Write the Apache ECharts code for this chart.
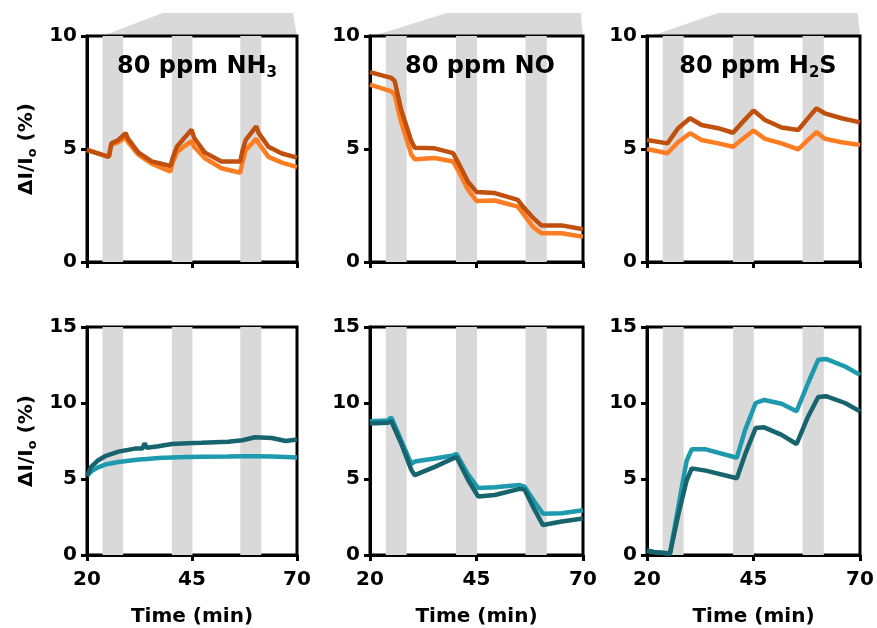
<!DOCTYPE html>
<html>
<head>
<meta charset="utf-8">
<script src="https://cdn.jsdelivr.net/npm/echarts@6.0.0/dist/echarts.min.js"></script>
<style>html,body{margin:0;padding:0;background:#fff}#c{width:877px;height:628px}</style>
</head>
<body>
<div id="c"></div>
<script>
// ---------- data ----------
const xTicks = [20, 45, 70];
const exposureBands = [[23.7, 28.6], [40.2, 45.1], [56.5, 61.5]];

// top row (orange) – 80 ppm NH3
const nh3TopTime  = [20, 23.5, 25.2, 25.8, 27.5, 29.2, 29.8, 32.2, 35.4, 39.9, 40.4, 41.4, 43, 44.9, 45.5, 48, 52, 56.5, 57, 57.8, 60.3, 60.9, 63.2, 66.4, 70];
const nh3TopDark  = [4.96, 4.75, 4.65, 5.25, 5.4, 5.7, 5.45, 4.85, 4.45, 4.25, 4.6, 5.1, 5.45, 5.85, 5.5, 4.85, 4.45, 4.45, 4.9, 5.4, 6.0, 5.7, 5.1, 4.8, 4.62];
const nh3TopLight = [4.96, 4.75, 4.65, 5.2, 5.3, 5.5, 5.3, 4.75, 4.35, 4.0, 4.4, 4.85, 5.1, 5.35, 5.1, 4.6, 4.15, 3.95, 4.4, 4.95, 5.45, 5.25, 4.65, 4.4, 4.2];

// top row – 80 ppm NO
const noTopTime  = [20, 25, 25.8, 27.3, 29.7, 30.5, 35.2, 39.5, 40.7, 43, 45, 49.3, 54.7, 55.9, 58.3, 60.2, 65, 70];
const noTopDark  = [8.4, 8.15, 8.0, 6.75, 5.35, 5.05, 5.03, 4.82, 4.4, 3.55, 3.1, 3.05, 2.75, 2.45, 1.95, 1.62, 1.62, 1.45];
const noTopLight = [7.85, 7.55, 7.4, 6.2, 4.75, 4.55, 4.6, 4.45, 4.05, 3.2, 2.7, 2.72, 2.45, 2.15, 1.55, 1.27, 1.27, 1.12];

// top row – 80 ppm H2S
const h2sTopTime  = [20, 24.8, 27.3, 30.1, 32.8, 36.7, 40.2, 42.5, 45, 47.7, 51.6, 55.5, 57.5, 59.8, 61.7, 65.7, 70];
const h2sTopDark  = [5.4, 5.25, 5.92, 6.36, 6.06, 5.92, 5.72, 6.2, 6.7, 6.28, 5.95, 5.84, 6.3, 6.8, 6.58, 6.36, 6.18];
const h2sTopLight = [5.0, 4.81, 5.3, 5.7, 5.4, 5.25, 5.1, 5.45, 5.82, 5.45, 5.25, 4.98, 5.35, 5.75, 5.45, 5.3, 5.18];

// bottom row (teal) – NH3
const nh3BotTime  = [20, 21, 22.5, 24.3, 27.5, 31.4, 33.2, 33.7, 34.3, 37, 40.2, 44, 47.3, 53.6, 57, 60, 64, 67.3, 70];
const nh3BotDark  = [5.2, 5.8, 6.2, 6.5, 6.8, 7.0, 7.0, 7.35, 7.05, 7.15, 7.3, 7.35, 7.38, 7.45, 7.55, 7.75, 7.7, 7.5, 7.6];
const nh3BotLight = [5.2, 5.5, 5.75, 5.95, 6.12, 6.25, 6.3, 6.3, 6.32, 6.38, 6.42, 6.45, 6.47, 6.48, 6.5, 6.5, 6.48, 6.45, 6.42];

// bottom row – NO
const noBotTime  = [20, 24.2, 25, 27.3, 29.7, 30.5, 35.2, 39.5, 40.3, 43, 45.4, 49.3, 55.1, 56.3, 58.6, 60.6, 65, 70];
const noBotDark  = [8.65, 8.7, 8.8, 7.35, 5.6, 5.25, 5.8, 6.35, 6.45, 4.95, 3.85, 3.95, 4.35, 4.3, 3.0, 1.97, 2.2, 2.4];
const noBotLight = [8.8, 8.85, 9.05, 7.55, 6.0, 6.15, 6.35, 6.55, 6.65, 5.3, 4.4, 4.45, 4.6, 4.5, 3.5, 2.72, 2.75, 2.95];

// bottom row – H2S
const h2sBotTime  = [20, 21.5, 25.4, 27.3, 29.3, 30.5, 33.8, 41.1, 43, 45.5, 47.5, 51.6, 55.1, 57.8, 60.2, 62, 66.5, 70];
const h2sBotDark  = [0.3, 0.2, 0.1, 2.6, 4.9, 5.7, 5.55, 5.05, 6.6, 8.35, 8.4, 7.9, 7.3, 9.1, 10.4, 10.45, 10.0, 9.45];
const h2sBotLight = [0.3, 0.2, 0.1, 3.1, 6.2, 6.95, 6.95, 6.4, 8.2, 10.0, 10.2, 9.95, 9.45, 11.3, 12.85, 12.9, 12.4, 11.85];

// concentration wedge above each top panel: [time, relative height]
const wedgeNH3 = [[23.6, 0], [38, 1], [69, 1], [70, 0]];
const wedgeNO  = [[20.7, 0], [38, 1], [69.5, 1], [70, 0]];
const wedgeH2S = [[21, 0], [36.7, 1], [69.5, 1], [70, 0]];

// ---------- layout / style ----------
const FONT = 'DejaVu Sans';
const colsLeft = [87, 370, 647];
const colsWidth = [210, 213, 213];
const rows = [{top: 36, height: 226, max: 10}, {top: 327, height: 228, max: 15}];
const C = {orangeDark: '#C0500E', orangeLight: '#FF7D22', tealDark: '#17646F', tealLight: '#1D9AAE', band: '#D9D9D9'};

const panels = [
  {t: nh3TopTime, d: nh3TopDark, l: nh3TopLight, row: 0, col: 0},
  {t: noTopTime, d: noTopDark, l: noTopLight, row: 0, col: 1},
  {t: h2sTopTime, d: h2sTopDark, l: h2sTopLight, row: 0, col: 2},
  {t: nh3BotTime, d: nh3BotDark, l: nh3BotLight, row: 1, col: 0},
  {t: noBotTime, d: noBotDark, l: noBotLight, row: 1, col: 1},
  {t: h2sBotTime, d: h2sBotDark, l: h2sBotLight, row: 1, col: 2}
];

const grid = [], xAxis = [], yAxis = [], series = [];
const bold = {fontFamily: FONT, fontWeight: 'bold', color: '#000'};
const yNameRich = {
  a: {fontFamily: FONT, fontWeight: 'bold', fontSize: 20, color: '#000', lineHeight: 24},
  s: {fontFamily: FONT, fontWeight: 'bold', fontSize: 13, color: '#000', verticalAlign: 'bottom', lineHeight: 24, padding: [8, 0, 0, 0]}
};

panels.forEach((p, i) => {
  const r = rows[p.row];
  grid.push({left: colsLeft[p.col], width: colsWidth[p.col], top: r.top, height: r.height,
    show: true, borderColor: '#000', borderWidth: 3, backgroundColor: 'transparent', outerBoundsMode: 'none'});
  xAxis.push({type: 'value', gridIndex: i, min: xTicks[0], max: xTicks[2], interval: xTicks[1] - xTicks[0],
    axisLine: {show: true, onZero: false, lineStyle: {color: '#000', width: 3}},
    axisTick: {show: true, length: 6, lineStyle: {color: '#000', width: 3}},
    axisLabel: {show: p.row === 1, margin: 15, fontSize: 20, ...bold},
    splitLine: {show: false},
    name: p.row === 1 ? 'Time (min)' : '', nameLocation: 'middle', nameGap: 52,
    nameTextStyle: {fontSize: 20, ...bold}});
  yAxis.push({type: 'value', gridIndex: i, min: 0, max: r.max, interval: 5,
    axisLine: {show: true, lineStyle: {color: '#000', width: 3}},
    axisTick: {show: true, length: 6, lineStyle: {color: '#000', width: 3}},
    axisLabel: {margin: 10, fontSize: 20, ...bold},
    splitLine: {show: false},
    name: p.col === 0 ? '{a|ΔI/I}{s|o}{a| (%)}' : '', nameLocation: 'middle', nameGap: 48, nameRotate: 90,
    nameTextStyle: {rich: yNameRich}});
  const dark = p.row === 0 ? C.orangeDark : C.tealDark;
  const light = p.row === 0 ? C.orangeLight : C.tealLight;
  series.push({type: 'line', xAxisIndex: i, yAxisIndex: i, showSymbol: false, silent: true, z: 3,
    data: p.t.map((t, k) => [t, p.l[k]]), lineStyle: {color: light, width: 4.5}, itemStyle: {color: light},
    markArea: {silent: true, itemStyle: {color: C.band}, z: 1,
      data: exposureBands.map(b => [{xAxis: b[0]}, {xAxis: b[1]}])}});
  series.push({type: 'line', xAxisIndex: i, yAxisIndex: i, showSymbol: false, silent: true, z: 4,
    data: p.t.map((t, k) => [t, p.d[k]]), lineStyle: {color: dark, width: 4.5}, itemStyle: {color: dark}});
});

const titleRich = {
  a: {fontFamily: FONT, fontWeight: 'bold', fontSize: 24, color: '#000', lineHeight: 28},
  s: {fontFamily: FONT, fontWeight: 'bold', fontSize: 15, color: '#000', verticalAlign: 'bottom', lineHeight: 28, padding: [8, 0, 0, 0]}
};
const title = [
  {text: '{a|80 ppm NH}{s|3}', left: 192, top: 48},
  {text: '{a|80 ppm NO}', left: 475, top: 48},
  {text: '{a|80 ppm H}{s|2}{a|S}', left: 753, top: 48}
].map(t => ({...t, textAlign: 'center', textStyle: {rich: titleRich}}));

const chart = echarts.init(document.getElementById('c'), null, {renderer: 'canvas'});
chart.setOption({animation: false, backgroundColor: '#fff', title, grid, xAxis, yAxis, series});

// wedges above top panels
const wedgeHeight = 23;
const wedges = [wedgeNH3, wedgeNO, wedgeH2S];
const graphic = wedges.map((w, i) => ({
  type: 'polygon', z: -10, silent: true,
  shape: {points: w.map(([t, f]) => [chart.convertToPixel({xAxisIndex: i}, t), rows[0].top - f * wedgeHeight])},
  style: {fill: C.band}
}));
chart.setOption({graphic});
</script>
</body>
</html>
